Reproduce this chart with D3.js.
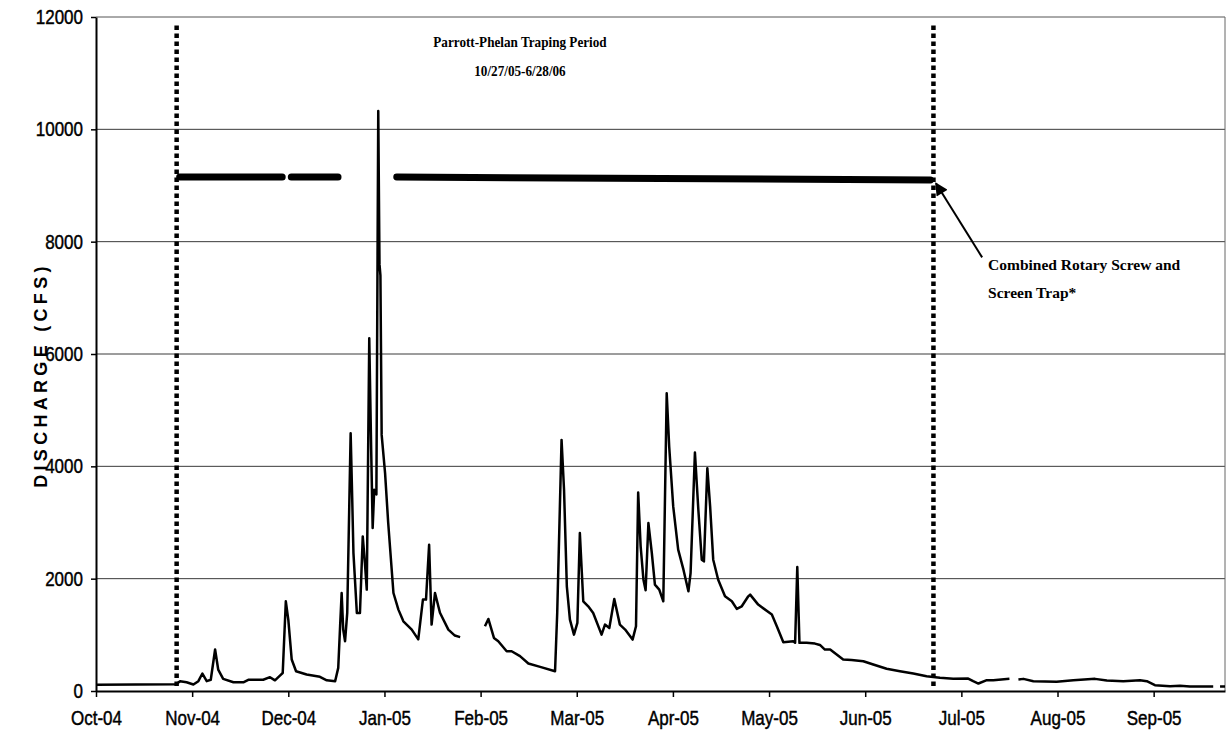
<!DOCTYPE html>
<html><head><meta charset="utf-8">
<script src="https://cdn.jsdelivr.net/npm/d3@7"></script>
<style>body{margin:0;background:#fff} svg{display:block}</style>
</head><body><svg id="chart" width="1228" height="745"></svg>
<script>
// ---------- data ----------
const monthLabels = ["Oct-04","Nov-04","Dec-04","Jan-05","Feb-05","Mar-05","Apr-05","May-05","Jun-05","Jul-05","Aug-05","Sep-05"];
const yTicks = [0, 2000, 4000, 6000, 8000, 10000, 12000];
// days since 1 Oct 2004 (water-year day); null = missing record
const waterYearDay = [0,25.8,27.1,29.2,31.4,33.0,34.3,35.7,37.0,38.4,39.4,41.0,44.3,47.5,49.1,53.9,56.1,57.7,59.3,60.2,61.2,62.0,63.1,64.5,67.9,72.2,74.4,77.1,78.1,78.7,79.2,79.7,80.3,81.0,82.1,82.6,83.0,84.1,85.1,86.0,86.7,87.3,88.1,88.7,89.2,89.7,90.4,91.0,91.4,91.7,92.1,93.2,94.2,95.9,97.5,99.1,101.8,103.9,105.4,106.4,107.4,108.2,109.3,110.9,113.6,115.7,117.4,
  121,
  125.4,126.5,128.3,129.7,132.4,134.0,136.7,139.4,143.2,148.0,148.7,150.1,150.9,151.8,152.8,154.1,155.2,156.0,157.1,158.7,160.3,163.0,164.1,165.5,167.1,168.9,170.6,173.0,174.1,174.8,175.6,176.5,177.2,178.1,179.2,180.2,181.6,182.9,184.0,184.8,186.1,187.7,189.4,191.0,191.7,193.1,194.2,195.3,196.0,197.1,198.0,199.0,200.6,202.8,205.0,206.6,208.2,210.3,210.9,213.5,217.9,219.5,221.6,224.8,225.4,226.1,226.8,229.1,231.8,233.4,235.0,236.7,240.9,243.6,247.4,250.6,254.9,259.2,263.5,267.8,272.1,276.4,281.2,282.8,284.5,287.2,289.3,294.5,
  296,
  297.4,299.0,302.2,309.7,315.1,322.1,325.9,331.2,336.6,338.8,341.4,346.3,349.5,352.7,360.2,
  361.3,
  362.4,364];
const discharge = [110,120,175,155,115,175,311,175,200,738,382,216,155,155,200,200,246,190,275,320,1597,1271,560,352,293,253,190,175,412,1152,1745,1093,886,1390,4590,3434,2460,1390,1390,2752,2278,1805,6279,4354,2901,3582,3500,10325,7600,7400,4560,3879,3000,1745,1449,1241,1093,920,1627,1627,2604,1182,1745,1393,1093,987,960,
  null,
  1152,1283,945,886,708,708,620,489,430,352,1390,4471,3582,1863,1271,1004,1212,2812,1597,1508,1390,1004,1182,1123,1639,1182,1093,915,1152,3535,2575,1982,1793,2990,2457,1893,1805,1597,5301,4353,3286,2516,2160,1775,2101,4246,3227,2338,2308,3968,3286,2338,1982,1686,1597,1461,1508,1686,1716,1538,1360,1152,868,886,860,2208,857,857,844,820,738,738,560,550,530,471,395,352,311,264,234,216,222,175,133,193,193,216,
  null,
  205,216,175,163,193,216,187,175,193,175,104,86,95,80,80,
  null,
  80,80];
// trap operation periods (thick bars)
const trapStart = ["2004-10-27","2004-12-02","2005-01-05"];
const trapEnd   = ["2004-12-01","2004-12-19","2005-06-28"];
const trapStartLevel = [9150, 9150, 9150];
const trapEndLevel   = [9150, 9150, 9100];
const periodBounds = ["2004-10-27","2005-06-28"];
const titleLines = ["Parrott-Phelan Traping Period","10/27/05-6/28/06"];
const noteLines = ["Combined Rotary Screw and","Screen Trap*"];
const yTitle = "DISCHARGE (CFS)";

// ---------- drawing ----------
const W = 1228, H = 745;
const L = 96, R = 1225, T = 17, B = 691;
const parse = d3.timeParse("%Y-%m-%d");
const origin = new Date(2004, 9, 1);
const dayOf = s => d3.timeDay.count(origin, parse(s));

const x = d3.scaleLinear().domain([0, 364]).range([L, R]);
const y = d3.scaleLinear().domain([0, 12000]).range([B, T]);

const svg = d3.select("#chart");
svg.append("rect").attr("width", W).attr("height", H).attr("fill", "#fff");

// gridlines
svg.append("g").selectAll("line").data(yTicks.filter(t => t > 0)).join("line")
  .attr("x1", L).attr("x2", R).attr("y1", d => y(d)).attr("y2", d => y(d))
  .attr("stroke", d => d === 12000 ? "#555" : "#3a3a3a").attr("stroke-width", 1);
// right frame
svg.append("line").attr("x1", R).attr("x2", R).attr("y1", T).attr("y2", B)
  .attr("stroke", "#666").attr("stroke-width", 1);

const tickFont = "'Liberation Sans',Arial,sans-serif";
const narrow = 0.83, tickSizePx = 20.5;

// y axis
const gy = svg.append("g").attr("transform", `translate(${L},0)`)
  .call(d3.axisLeft(y).tickValues(yTicks).tickFormat(d3.format("d")).tickSize(5).tickPadding(8).tickSizeOuter(0));
gy.select(".domain").attr("stroke", "#000").attr("stroke-width", 2);
gy.selectAll(".tick line").attr("stroke", "#000").attr("stroke-width", 1.5);
gy.selectAll(".tick text").attr("font-family", tickFont).attr("font-size", tickSizePx).attr("fill", "#000")
  .attr("stroke", "#000").attr("stroke-width", 0.45)
  .attr("x", -13 / narrow).attr("transform", `scale(${narrow},1)`);

// x axis
const gx = svg.append("g").attr("transform", `translate(0,${B})`)
  .call(d3.axisBottom(x).tickValues(monthLabels.map((_, i) => i * 31))
    .tickFormat((d, i) => monthLabels[i]).tickSize(6).tickPadding(13).tickSizeOuter(0));
gx.select(".domain").attr("stroke", "#000").attr("stroke-width", 2);
gx.selectAll(".tick line").attr("stroke", "#000").attr("stroke-width", 1.5);
gx.selectAll(".tick text").attr("font-family", tickFont).attr("font-size", tickSizePx).attr("fill", "#000")
  .attr("stroke", "#000").attr("stroke-width", 0.45)
  .attr("transform", `scale(${narrow},1)`);

// y title
svg.append("text")
  .attr("transform", `translate(47,${(T + B) / 2 + 21}) rotate(-90)`)
  .attr("text-anchor", "middle")
  .attr("font-family", "'Liberation Sans',Arial,sans-serif").attr("font-weight", "bold")
  .attr("font-size", 18).attr("letter-spacing", 4.3).text(yTitle);

// discharge line
const pts = waterYearDay.map((d, i) => [d, discharge[i]]);
svg.append("path").datum(pts)
  .attr("d", d3.line().defined(d => d[1] != null).x(d => x(d[0])).y(d => y(d[1])))
  .attr("fill", "none").attr("stroke", "#000").attr("stroke-width", 2.5).attr("stroke-linejoin", "round");

// trapping-period bounds (dotted)
svg.append("g").selectAll("line").data(periodBounds).join("line")
  .attr("x1", d => x(dayOf(d))).attr("x2", d => x(dayOf(d)))
  .attr("y1", y(11850)).attr("y2", y(0) - 2)
  .attr("stroke", "#000").attr("stroke-width", 4.5).attr("stroke-dasharray", "4.5,3.5");

// trap bars (round caps, inset so separate periods stay visibly apart)
const capInset = 3;
svg.append("g").selectAll("line").data(trapStart).join("line")
  .attr("x1", d => x(dayOf(d)) + capInset).attr("x2", (d, i) => x(dayOf(trapEnd[i])) - capInset)
  .attr("y1", (d, i) => y(trapStartLevel[i])).attr("y2", (d, i) => y(trapEndLevel[i]))
  .attr("stroke", "#000").attr("stroke-width", 7).attr("stroke-linecap", "round");

// arrow annotation
svg.append("defs").append("marker").attr("id", "ah")
  .attr("viewBox", "0 0 10 10").attr("refX", 9).attr("refY", 5)
  .attr("markerWidth", 15).attr("markerHeight", 13).attr("markerUnits", "userSpaceOnUse")
  .attr("orient", "auto")
  .append("path").attr("d", "M0,0 L10,5 L0,10 Z").attr("fill", "#000");
const arrowTail = { day: 285.7, value: 7720 };
const arrowTip = { day: dayOf("2005-06-28") + 0.8, value: 9040 };
svg.append("line")
  .attr("x1", x(arrowTail.day)).attr("y1", y(arrowTail.value))
  .attr("x2", x(arrowTip.day)).attr("y2", y(arrowTip.value))
  .attr("stroke", "#000").attr("stroke-width", 2).attr("marker-end", "url(#ah)");

// text annotations
const serif = "'Liberation Serif','Times New Roman',serif";
const titleAnchor = { day: 136.7, value: 11470 };
const titleScale = 0.85;
svg.append("text").attr("text-anchor", "middle")
  .attr("transform", `scale(${titleScale},1)`)
  .attr("font-family", serif).attr("font-weight", "bold").attr("font-size", 15.5)
  .selectAll("tspan").data(titleLines).join("tspan")
  .attr("x", x(titleAnchor.day) / titleScale).attr("y", (d, i) => y(titleAnchor.value) + i * 29).text(d => d);

const noteAnchor = { day: 287.6, value: 7500 };
svg.append("text").attr("text-anchor", "start")
  .attr("font-family", serif).attr("font-weight", "bold").attr("font-size", 15.5)
  .selectAll("tspan").data(noteLines).join("tspan")
  .attr("x", x(noteAnchor.day)).attr("y", (d, i) => y(noteAnchor.value) + i * 28).text(d => d);
</script>
</body></html>
